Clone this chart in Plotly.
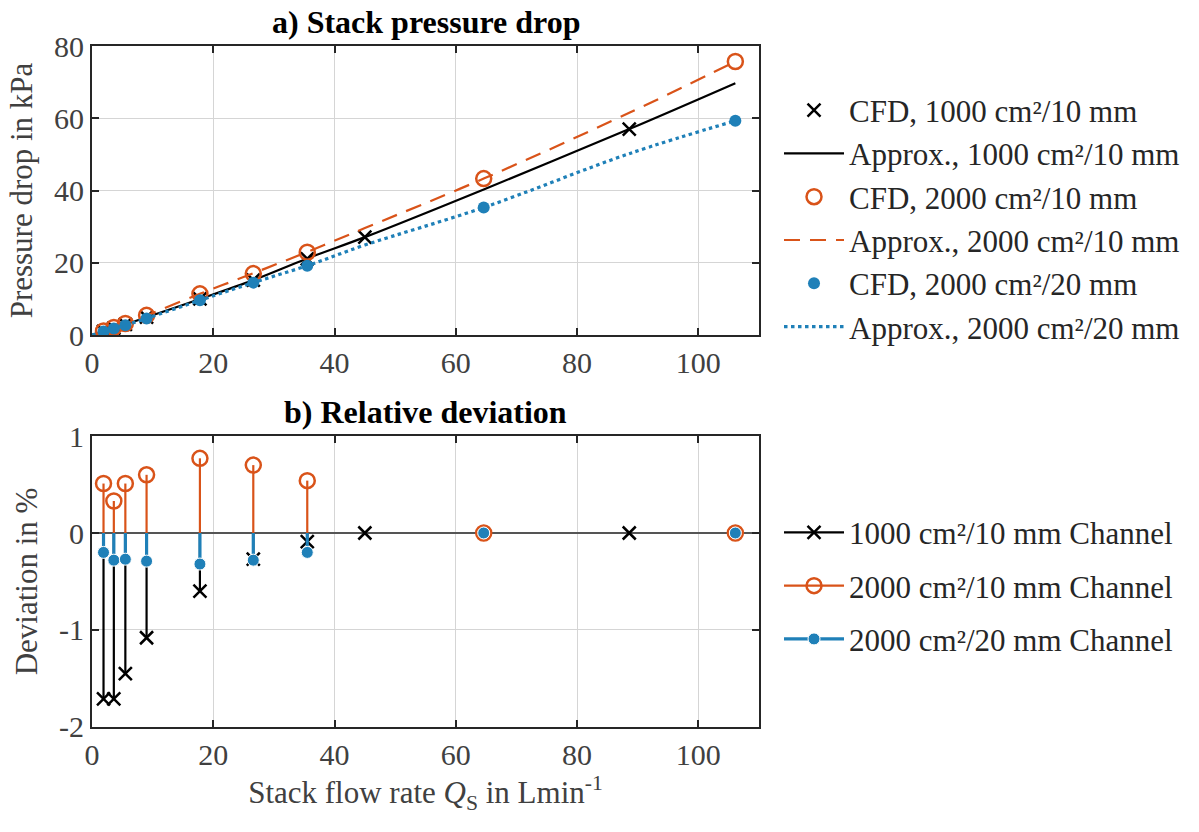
import plotly.graph_objects as go

# ---------------- data ----------------
q_1000 = [1.9, 3.6, 5.5, 9.0, 17.8, 26.6, 35.5, 45.0, 88.6]
dp_1000 = [1.0, 1.9, 2.95, 4.95, 10.0, 15.2, 21.1, 27.1, 57.0]
q_2000 = [1.9, 3.6, 5.5, 9.0, 17.8, 26.6, 35.5, 64.6, 106.1]
dp_2000_10 = [1.1, 2.1, 3.2, 5.45, 11.4, 17.0, 22.9, 43.3, 75.7]
dp_2000_20 = [0.95, 1.8, 2.7, 4.6, 9.6, 14.5, 19.2, 35.3, 59.3]

q_fit = [0, 1.9, 3.6, 5.5, 9.0, 17.8, 26.6, 35.5, 45.0, 64.6, 88.6, 106.1]
fit_1000 = [0, 0.98, 1.87, 2.9, 4.9, 9.95, 15.2, 21.2, 27.1, 40.3, 57.0, 69.7]
fit_2000_10 = [0, 1.1, 2.1, 3.2, 5.45, 11.4, 17.1, 23.0, 29.6, 43.3, 61.5, 75.7]
fit_2000_20 = [0, 0.95, 1.8, 2.7, 4.6, 9.6, 14.5, 19.2, 24.9, 35.3, 50.2, 59.3]

dev_1000 = [-1.71, -1.71, -1.45, -1.08, -0.60, -0.27, -0.09, 0.0, 0.0]
dev_2000_10 = [0.51, 0.33, 0.51, 0.60, 0.77, 0.70, 0.54, 0.0, 0.0]
dev_2000_20 = [-0.20, -0.28, -0.27, -0.29, -0.32, -0.28, -0.20, 0.0, 0.0]

x_ticks = [0, 20, 40, 60, 80, 100]
y_ticks_top = [0, 20, 40, 60, 80]
y_ticks_bot = [-2, -1, 0, 1]
y_ticktext_bot = ["-2", "-1", "0", "1"]

BLACK = "#000000"
ORANGE = "#D95319"
BLUE = "#1F80B8"
FONT = "Times New Roman, Liberation Serif, serif"
FS = 30
TICKC = "#404040"

fig = go.Figure()

# ---------------- top panel ----------------
fig.add_trace(go.Scatter(x=q_1000, y=dp_1000, mode="markers", name="CFD, 1000 cm²/10 mm",
                         marker=dict(symbol="x-thin", size=13, color=BLACK,
                                     line=dict(width=2.5, color=BLACK)),
                         xaxis="x", yaxis="y", legend="legend"))
fig.add_trace(go.Scatter(x=q_fit, y=fit_1000, mode="lines", name="Approx., 1000 cm²/10 mm",
                         line=dict(color=BLACK, width=2.2), line_shape="spline",
                         xaxis="x", yaxis="y", legend="legend"))
fig.add_trace(go.Scatter(x=q_2000, y=dp_2000_10, mode="markers", name="CFD, 2000 cm²/10 mm",
                         marker=dict(symbol="circle-open", size=15, color=ORANGE,
                                     line=dict(width=2.5, color=ORANGE)),
                         xaxis="x", yaxis="y", legend="legend"))
fig.add_trace(go.Scatter(x=q_fit, y=fit_2000_10, mode="lines", name="Approx., 2000 cm²/10 mm",
                         line=dict(color=ORANGE, width=2.2, dash="16px,10px"), line_shape="spline",
                         xaxis="x", yaxis="y", legend="legend"))
fig.add_trace(go.Scatter(x=q_2000, y=dp_2000_20, mode="markers", name="CFD, 2000 cm²/20 mm",
                         marker=dict(symbol="circle", size=12, color=BLUE),
                         xaxis="x", yaxis="y", legend="legend"))
fig.add_trace(go.Scatter(x=q_fit, y=fit_2000_20, mode="lines", name="Approx., 2000 cm²/20 mm",
                         line=dict(color=BLUE, width=3.2, dash="3.5px,3.5px"), line_shape="spline",
                         xaxis="x", yaxis="y", legend="legend"))


# ---------------- bottom panel (stems) ----------------
def stems(xs, ys, msize):
    sx, sy, ss = [], [], []
    for xv, yv in zip(xs, ys):
        sx += [xv, xv, None]
        sy += [0, yv, None]
        ss += [0, msize, 2 * msize]  # gap point is never drawn; keeps legend glyph size
    return sx, sy, ss


sx, sy, ss = stems(q_1000, dev_1000, 13)
fig.add_trace(go.Scatter(x=sx, y=sy, mode="lines+markers", name="1000 cm²/10 mm Channel",
                         line=dict(color=BLACK, width=2.2),
                         marker=dict(symbol="x-thin", size=ss, color=BLACK, opacity=1,
                                     line=dict(width=2.5, color=BLACK)),
                         xaxis="x2", yaxis="y2", legend="legend2", legendgroup="a"))
sx, sy, ss = stems(q_2000, dev_2000_10, 15)
fig.add_trace(go.Scatter(x=sx, y=sy, mode="lines+markers", name="2000 cm²/10 mm Channel",
                         line=dict(color=ORANGE, width=2.2),
                         marker=dict(symbol="circle-open", size=ss, color=ORANGE, opacity=1,
                                     line=dict(width=2.5, color=ORANGE)),
                         xaxis="x2", yaxis="y2", legend="legend2", legendgroup="b"))
sx, sy, ss = stems(q_2000, dev_2000_20, 12)
fig.add_trace(go.Scatter(x=sx, y=sy, mode="lines+markers", name="2000 cm²/20 mm Channel",
                         line=dict(color=BLUE, width=3.2),
                         marker=dict(symbol="circle", size=ss, color=BLUE, opacity=1),
                         xaxis="x2", yaxis="y2", legend="legend2", legendgroup="c"))

axis_common = dict(showline=True, linecolor="#262626", linewidth=2, mirror="ticks",
                   ticks="inside", ticklen=7, tickwidth=2, tickcolor="#262626",
                   showgrid=True, gridcolor="#D5D5D5", gridwidth=1.3,
                   tickfont=dict(family=FONT, size=FS, color=TICKC), zeroline=False)

fig.update_layout(
    width=1199, height=832,
    margin=dict(l=92, r=440, t=46, b=105),
    paper_bgcolor="white", plot_bgcolor="white",
    font=dict(family=FONT, size=FS, color=TICKC),
    xaxis=dict(domain=[0, 1], range=[0, 110], tickvals=x_ticks, anchor="y", **axis_common),
    yaxis=dict(domain=[0.5756, 1], range=[0, 80], tickvals=y_ticks_top, anchor="x",
               title=dict(text="Pressure drop in kPa", font=dict(family=FONT, size=31, color=TICKC),
                          standoff=12),
               **axis_common),
    xaxis2=dict(domain=[0, 1], range=[0, 110], tickvals=x_ticks, anchor="y2",
                title=dict(text="Stack flow rate <i>Q</i><sub>S</sub> in Lmin<sup>-1</sup>",
                           font=dict(family=FONT, size=31, color=TICKC), standoff=10),
                **axis_common),
    yaxis2=dict(domain=[0, 0.4273], range=[-2, 1], tickvals=y_ticks_bot, ticktext=y_ticktext_bot,
                anchor="x2",
                title=dict(text="Deviation in %", font=dict(family=FONT, size=31, color=TICKC),
                           standoff=12),
                **{k: v for k, v in axis_common.items() if k != "zeroline"},
                zeroline=True, zerolinecolor="#555555", zerolinewidth=2),
    legend=dict(x=1.03, xanchor="left", y=0.945, yanchor="top",
                font=dict(family=FONT, size=31, color="#262626"),
                bgcolor="rgba(0,0,0,0)", itemwidth=60, tracegroupgap=0),
    legend2=dict(x=1.03, xanchor="left", y=0.325, yanchor="top",
                 font=dict(family=FONT, size=31, color="#262626"),
                 bgcolor="rgba(0,0,0,0)", itemwidth=60, tracegroupgap=10),
    showlegend=True,
    annotations=[
        dict(text="<b>a) Stack pressure drop</b>", x=0.5, y=1.035, xref="paper", yref="paper",
             xanchor="center", yanchor="middle", showarrow=False,
             font=dict(family=FONT, size=32, color="#000000")),
        dict(text="<b>b) Relative deviation</b>", x=0.5, y=0.4626, xref="paper", yref="paper",
             xanchor="center", yanchor="middle", showarrow=False,
             font=dict(family=FONT, size=32, color="#000000")),
    ],
)

fig.write_html("out.html")
